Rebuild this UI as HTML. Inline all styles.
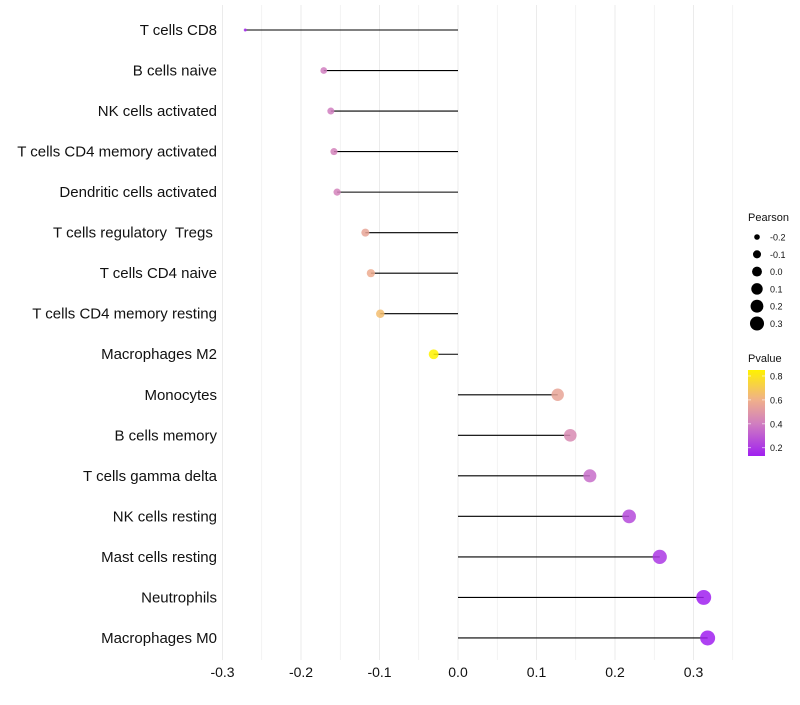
<!DOCTYPE html>
<html><head><meta charset="utf-8"><style>
body{margin:0;background:#fff;font-family:"Liberation Sans",sans-serif}
text{white-space:pre}
</style></head><body>
<svg id="c" width="800" height="700" xmlns="http://www.w3.org/2000/svg" font-family="Liberation Sans, sans-serif"></svg>
<script>
const categories=["T cells CD8","B cells naive","NK cells activated","T cells CD4 memory activated","Dendritic cells activated","T cells regulatory  Tregs ","T cells CD4 naive","T cells CD4 memory resting","Macrophages M2","Monocytes","B cells memory","T cells gamma delta","NK cells resting","Mast cells resting","Neutrophils","Macrophages M0"];
const pearson=[-0.271,-0.171,-0.162,-0.158,-0.154,-0.118,-0.111,-0.099,-0.031,0.127,0.143,0.168,0.218,0.257,0.313,0.318];
const pvalue=[0.15,0.4,0.4,0.42,0.42,0.55,0.58,0.65,0.85,0.55,0.45,0.35,0.25,0.2,0.13,0.13];
const xTicks=[-0.3,-0.2,-0.1,0.0,0.1,0.2,0.3];
const xTickLabels=["-0.3","-0.2","-0.1","0.0","0.1","0.2","0.3"];
const sizeBreaks=[-0.2,-0.1,0.0,0.1,0.2,0.3];
const colorBreaks=[0.8,0.6,0.4,0.2];

const svg=document.getElementById('c');const NS="http://www.w3.org/2000/svg";
function mk(t,a,p){const e=document.createElementNS(NS,t);for(const k in a)e.setAttribute(k,a[k]);(p||svg).appendChild(e);return e;}
const X=v=>458+v*785;
const Y=i=>30+i*40.53;
const R=v=>Math.sqrt(Math.max(2.25,2.25+91.7*(v+0.271)));
const stops=[[0.13,[160,32,240]],[0.4,[208,126,192]],[0.6,[240,176,138]],[0.85,[255,242,0]]];
function col(p){p=Math.max(0.13,Math.min(0.85,p));for(let i=0;i<stops.length-1;i++){const[a,ca]=stops[i],[b,cb]=stops[i+1];if(p<=b){const t=(p-a)/(b-a);return`rgb(${ca.map((c,j)=>Math.round(c+(cb[j]-c)*t)).join(',')})`;}}return'rgb(255,242,0)';}
for(let v=-0.3;v<=0.351;v+=0.05){const g=mk('line',{x1:X(v),x2:X(v),y1:5,y2:660,stroke:'#ebebeb','stroke-width':Math.abs(Math.round(v*100)%10)<1?1:0.6});
}
xTicks.forEach((v,i)=>{const t=mk('text',{x:X(v),y:677,'text-anchor':'middle','font-size':14,fill:'#111'});t.textContent=xTickLabels[i];
});
categories.forEach((c,i)=>{const t=mk('text',{x:217,y:Y(i)+5,'text-anchor':'end','font-size':15,fill:'#111'});t.textContent=c;

const l=mk('line',{x1:X(0),x2:X(pearson[i]),y1:Y(i),y2:Y(i),stroke:'#000','stroke-width':1.1});

const d=mk('circle',{cx:X(pearson[i]),cy:Y(i),r:R(pearson[i]),fill:col(pvalue[i]),'fill-opacity':0.85});
});
let t=mk('text',{x:748,y:221,'font-size':11,fill:'#111'});t.textContent='Pearson';
sizeBreaks.forEach((v,i)=>{const y=237+i*17.3;const c=mk('circle',{cx:757,cy:y,r:R(v)*0.95,fill:'#000'});
const s=mk('text',{x:770,y:y+3.5,'font-size':9,fill:'#111'});s.textContent=v.toFixed(1);});
t=mk('text',{x:748,y:362,'font-size':11,fill:'#111'});t.textContent='Pvalue';
const defs=mk('defs',{});const lg=mk('linearGradient',{id:'g',x1:0,y1:1,x2:0,y2:0},defs);
stops.forEach(([p,c])=>mk('stop',{offset:(p-0.13)/0.72,'stop-color':`rgb(${c.join(',')})`},lg));
const bar=mk('rect',{x:748,y:370,width:17,height:86,fill:'url(#g)'});
colorBreaks.forEach(v=>{const y=456-(v-0.13)/0.72*86;mk('line',{x1:748,x2:751,y1:y,y2:y,stroke:'#fff','stroke-opacity':0.6});mk('line',{x1:762,x2:765,y1:y,y2:y,stroke:'#fff','stroke-opacity':0.6});
const s=mk('text',{x:770,y:y+3.5,'font-size':9,fill:'#111'});s.textContent=v.toFixed(1);});
</script>
</body></html>
